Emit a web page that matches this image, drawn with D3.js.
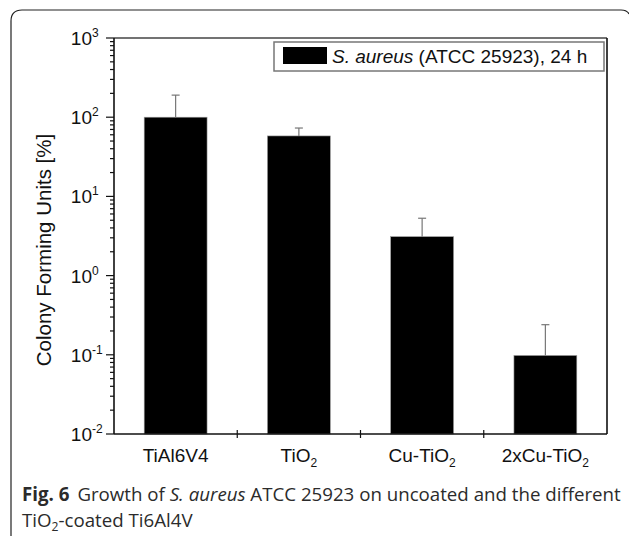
<!DOCTYPE html>
<html>
  <head>
    <meta http-equiv="Content-Type" content="text/html;charset=utf-8"/>
	<title>CFU S. aureus</title>
	<script src="https://cdn.jsdelivr.net/npm/d3@7"></script>
	<style>
		body { margin: 0; background: #fff; }
		.chartText { font-family: 'Liberation Sans', Arial, sans-serif; fill: #111; }
		.caption { font-family: 'Open Sans', 'Noto Sans', sans-serif; fill: #2b2b2b; }
	</style>
  </head>
  <body>
	<div id="chart"></div>
    <script>

		// data
		const categories = ["TiAl6V4", "TiO2", "Cu-TiO2", "2xCu-TiO2"];
		const cfu = [100, 58, 3.1, 0.098];
		const cfuUpper = [190, 73, 5.3, 0.24];
		const yTickLabels = ["-2", "-1", "0", "1", "2", "3"];
		const legendLabel = ["S. aureus", " (ATCC 25923), 24 h"];

		var W = 629, H = 536;
		var plot = {left: 114, top: 38, right: 607, bottom: 434};

		var svg = d3.select("#chart").append("svg")
			.attr("width", W)
			.attr("height", H);

		// outer frame (cut at right and bottom)
		svg.append("path")
			.attr("d", "M11,540 L11,21 Q11,10 22,10 L621,10 Q627,10 629,14")
			.attr("fill", "none")
			.attr("stroke", "#222")
			.attr("stroke-width", 1.2);

		var x = d3.scaleBand()
			.domain(categories)
			.range([plot.left, plot.right])
			.padding(0);

		var y = d3.scaleLog()
			.domain([0.01, 1000])
			.range([plot.bottom, plot.top]);

		var barW = x.bandwidth() * 0.51;

		// bars
		svg.selectAll("rect.bar")
			.data(categories)
		  .enter().append("rect")
			.attr("class", "bar")
			.attr("x", d => x(d) + (x.bandwidth() - barW) / 2)
			.attr("width", barW)
			.attr("y", (d, i) => y(cfu[i]))
			.attr("height", (d, i) => y(0.01) - y(cfu[i]))
			.attr("fill", "#000")
			.attr("stroke", "#999")
			.attr("stroke-width", 0.6);

		// error bars (upper only)
		var err = svg.append("g").attr("stroke", "#777").attr("stroke-width", 1.2);
		categories.forEach(function(d, i) {
			var cx = x(d) + x.bandwidth() / 2;
			err.append("line")
				.attr("x1", cx).attr("x2", cx)
				.attr("y1", y(cfu[i])).attr("y2", y(cfuUpper[i]));
			err.append("line")
				.attr("x1", cx - 4).attr("x2", cx + 4)
				.attr("y1", y(cfuUpper[i])).attr("y2", y(cfuUpper[i]));
		});

		// frame of plot
		svg.append("line")
			.attr("x1", plot.left).attr("x2", plot.right)
			.attr("y1", plot.top).attr("y2", plot.top)
			.attr("stroke", "#444").attr("stroke-width", 1.4);
		svg.append("line")
			.attr("x1", plot.right).attr("x2", plot.right)
			.attr("y1", plot.top).attr("y2", plot.bottom)
			.attr("stroke", "#111").attr("stroke-width", 1.6);

		// y axis with minor ticks
		var yAxis = svg.append("g");
		yAxis.append("line")
			.attr("x1", plot.left).attr("x2", plot.left)
			.attr("y1", plot.top).attr("y2", plot.bottom)
			.attr("stroke", "#111").attr("stroke-width", 1.6);
		yAxis.selectAll("line.tick")
			.data(y.ticks())
		  .enter().append("line")
			.attr("class", "tick")
			.attr("x1", d => Math.abs(Math.log10(d) % 1) < 1e-9 ? plot.left - 8 : plot.left - 4)
			.attr("x2", plot.left)
			.attr("y1", d => y(d)).attr("y2", d => y(d))
			.attr("stroke", "#111").attr("stroke-width", 1.2);

		var majors = yTickLabels.map(e => Math.pow(10, +e));
		yAxis.selectAll("text.tl")
			.data(majors)
		  .enter().append("text")
			.attr("class", "chartText tl")
			.attr("x", 92)
			.attr("y", d => y(d) + 7)
			.attr("text-anchor", "end")
			.style("font-size", "19px")
			.text("10");
		yAxis.selectAll("text.sup")
			.data(majors)
		  .enter().append("text")
			.attr("class", "chartText sup")
			.attr("x", 92)
			.attr("y", d => y(d) - 1)
			.style("font-size", "12px")
			.text((d, i) => yTickLabels[i]);

		svg.append("text")
			.attr("class", "chartText")
			.attr("transform", "translate(51," + ((plot.top + plot.bottom) / 2 + 14) + ") rotate(-90)")
			.attr("text-anchor", "middle")
			.style("font-size", "20.5px")
			.text("Colony Forming Units [%]");

		// x axis
		var xAxis = svg.append("g");
		xAxis.append("line")
			.attr("x1", plot.left).attr("x2", plot.right)
			.attr("y1", plot.bottom).attr("y2", plot.bottom)
			.attr("stroke", "#111").attr("stroke-width", 1.6);
		xAxis.selectAll("line.tick")
			.data(categories.slice(1))
		  .enter().append("line")
			.attr("x1", d => x(d)).attr("x2", d => x(d))
			.attr("y1", plot.bottom - 4).attr("y2", plot.bottom + 4)
			.attr("stroke", "#111").attr("stroke-width", 1.2);

		categories.forEach(function(d) {
			var t = xAxis.append("text")
				.attr("class", "chartText")
				.attr("x", x(d) + x.bandwidth() / 2)
				.attr("y", 462)
				.attr("text-anchor", "middle")
				.style("font-size", "19px");
			var m = d.match(/^(.*O)2$/);
			if (m) {
				t.append("tspan").text(m[1]);
				t.append("tspan").attr("dy", 5).style("font-size", "12px").text("2");
			} else {
				t.text(d);
			}
		});

		// legend
		var lg = svg.append("g");
		lg.append("rect")
			.attr("x", 274).attr("y", 42)
			.attr("width", 330).attr("height", 29)
			.attr("fill", "#fff")
			.attr("stroke", "#777").attr("stroke-width", 1.5);
		lg.append("rect")
			.attr("x", 283).attr("y", 47)
			.attr("width", 44).attr("height", 17)
			.attr("fill", "#000");
		var lt = lg.append("text")
			.attr("class", "chartText")
			.attr("x", 332).attr("y", 63)
			.style("font-size", "19px");
		lt.append("tspan").style("font-style", "italic").text(legendLabel[0]);
		lt.append("tspan").text(legendLabel[1]);

		// caption
		var c1 = svg.append("text")
			.attr("class", "caption")
			.attr("x", 22).attr("y", 501)
			.style("font-size", "18px");
		c1.append("tspan").style("font-weight", "bold").text("Fig. 6");
		c1.append("tspan").attr("dx", 8).text("Growth of ");
		c1.append("tspan").style("font-style", "italic").text("S. aureus");
		c1.append("tspan").text(" ATCC 25923 on uncoated and the different");
		var w1 = c1.node().getComputedTextLength();
		var fs = 18 * 591 / w1;
		c1.style("font-size", fs + "px");

		var c2 = svg.append("text")
			.attr("class", "caption")
			.attr("x", 22).attr("y", 527)
			.style("font-size", fs + "px");
		c2.append("tspan").text("TiO");
		c2.append("tspan").attr("dy", 4).style("font-size", (fs * 0.65) + "px").text("2");
		c2.append("tspan").attr("dy", -4).text("-coated Ti6Al4V");
	</script>
  </body>
</html>
